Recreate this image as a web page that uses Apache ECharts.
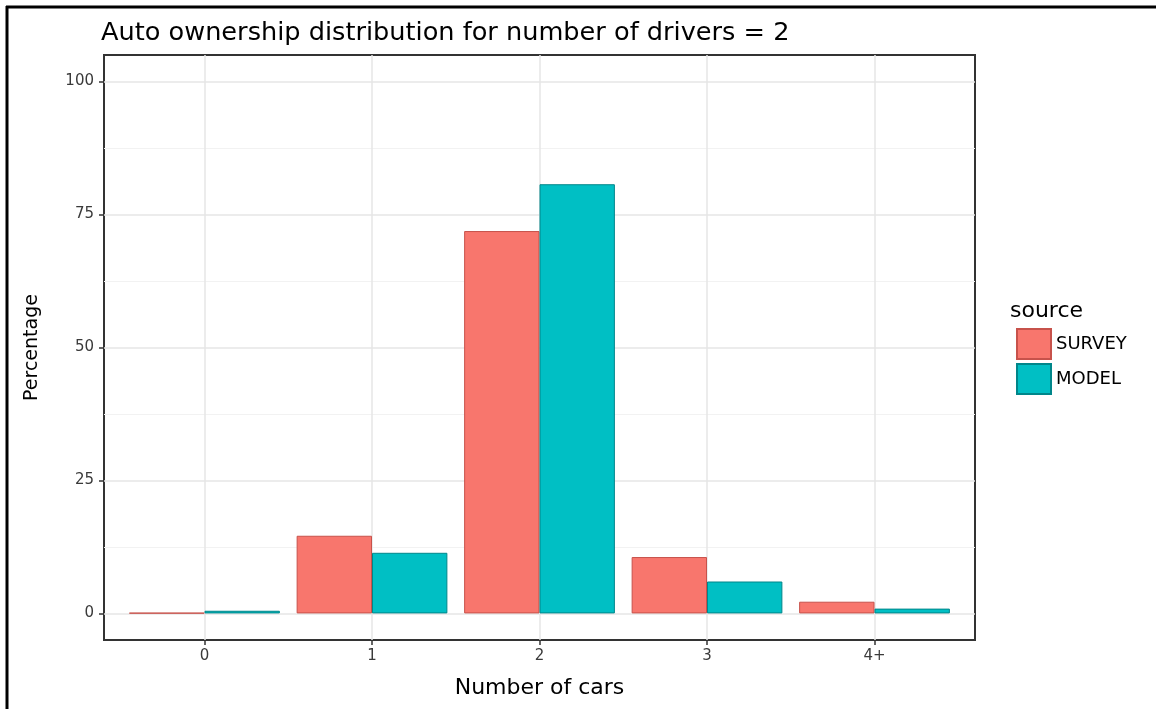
<!DOCTYPE html>
<html>
<head>
<meta charset="utf-8">
<script src="https://cdn.jsdelivr.net/npm/echarts@6/dist/echarts.min.js"></script>
<style>
html,body{margin:0;padding:0;background:#fff;}
#chart{width:1156px;height:709px;}
</style>
</head>
<body>
<div id="chart"></div>
<script>
var categories = ['0', '1', '2', '3', '4+'];
var surveyValues = [0.1, 14.6, 71.9, 10.6, 2.2];
var modelValues = [0.5, 11.4, 80.7, 6.0, 0.9];
var yTicks = [0, 25, 50, 75, 100];
var yMinorTicks = [12.5, 37.5, 62.5, 87.5];
var seriesNames = ['SURVEY', 'MODEL'];

var FONT = "'DejaVu Sans', 'Liberation Sans', Arial, sans-serif";
var chart = echarts.init(document.getElementById('chart'));

function toPairs(vals) {
  return vals.map(function (v, i) { return [i, v]; });
}

var gridLines = [];
yMinorTicks.forEach(function (v) {
  gridLines.push({ yAxis: v, lineStyle: { color: '#f2f2f2', width: 1, type: 'solid' } });
});
yTicks.forEach(function (v) {
  gridLines.push({ yAxis: v, lineStyle: { color: '#e6e6e6', width: 1.5, type: 'solid' } });
});
categories.forEach(function (c, i) {
  gridLines.push({ xAxis: i, lineStyle: { color: '#e6e6e6', width: 1.5, type: 'solid' } });
});

var option = {
  backgroundColor: '#ffffff',
  animation: false,
  textStyle: { fontFamily: FONT },
  title: {
    text: 'Auto ownership distribution for number of drivers = 2',
    left: 96,
    top: 15,
    textStyle: { fontFamily: FONT, fontSize: 25.6, fontWeight: 'normal', color: '#000' }
  },
  grid: {
    left: 104, right: 181, top: 55, bottom: 69,
    show: true, borderColor: '#333333', borderWidth: 2, backgroundColor: 'transparent'
  },
  legend: {
    orient: 'vertical',
    left: 1011,
    top: 323,
    itemWidth: 34,
    itemHeight: 30,
    itemGap: 3,
    icon: 'rect',
    data: seriesNames,
    textStyle: { fontFamily: FONT, fontSize: 18, color: '#000' }
  },
  xAxis: {
    type: 'value',
    min: -0.6,
    max: 4.6,
    name: 'Number of cars',
    nameLocation: 'middle',
    nameGap: 37,
    nameTextStyle: { fontFamily: FONT, fontSize: 22, color: '#000' },
    axisLine: { show: false, onZero: false },
    axisTick: { show: true, length: 5, customValues: [0, 1, 2, 3, 4], lineStyle: { color: '#333', width: 1.5 } },
    axisLabel: {
      show: true, customValues: [0, 1, 2, 3, 4], margin: 9,
      fontFamily: FONT, fontSize: 15, color: '#3a3a3a',
      formatter: function (v) { return categories[Math.round(v)]; }
    },
    splitLine: { show: false }
  },
  yAxis: {
    type: 'value',
    min: -5,
    max: 105,
    name: 'Percentage',
    nameLocation: 'middle',
    nameGap: 62,
    nameRotate: 90,
    nameTextStyle: { fontFamily: FONT, fontSize: 19, color: '#000' },
    axisLine: { show: false, onZero: false },
    axisTick: { show: true, length: 5, customValues: yTicks, lineStyle: { color: '#333', width: 1.5 } },
    axisLabel: {
      show: true, customValues: yTicks, margin: 10,
      fontFamily: FONT, fontSize: 15, color: '#3a3a3a'
    },
    splitLine: { show: false }
  },
  graphic: [
    {
      type: 'line', silent: true,
      shape: { x1: 6, y1: 7, x2: 1156, y2: 7 },
      style: { stroke: '#000', lineWidth: 3 }
    },
    {
      type: 'line', silent: true,
      shape: { x1: 7, y1: 6, x2: 7, y2: 709 },
      style: { stroke: '#000', lineWidth: 3 }
    },
    {
      type: 'text', silent: true,
      left: 1010, top: 300,
      style: { text: 'source', fontFamily: FONT, fontSize: 22, fill: '#000' }
    }
  ],
  series: [
    {
      name: 'grid',
      type: 'line',
      data: [],
      silent: true,
      z: 0,
      markLine: {
        silent: true,
        z: 0,
        symbol: ['none', 'none'],
        label: { show: false },
        animation: false,
        data: gridLines
      }
    },
    {
      name: seriesNames[0],
      type: 'bar',
      z: 3,
      data: toPairs(surveyValues),
      barWidth: '45%',
      barGap: '0%',
      itemStyle: { color: '#F8766D', borderColor: '#c7524b', borderWidth: 1 }
    },
    {
      name: seriesNames[1],
      type: 'bar',
      z: 3,
      data: toPairs(modelValues),
      barWidth: '45%',
      barGap: '0%',
      itemStyle: { color: '#00BFC4', borderColor: '#00868a', borderWidth: 1 }
    }
  ]
};
chart.setOption(option);
</script>
</body>
</html>
